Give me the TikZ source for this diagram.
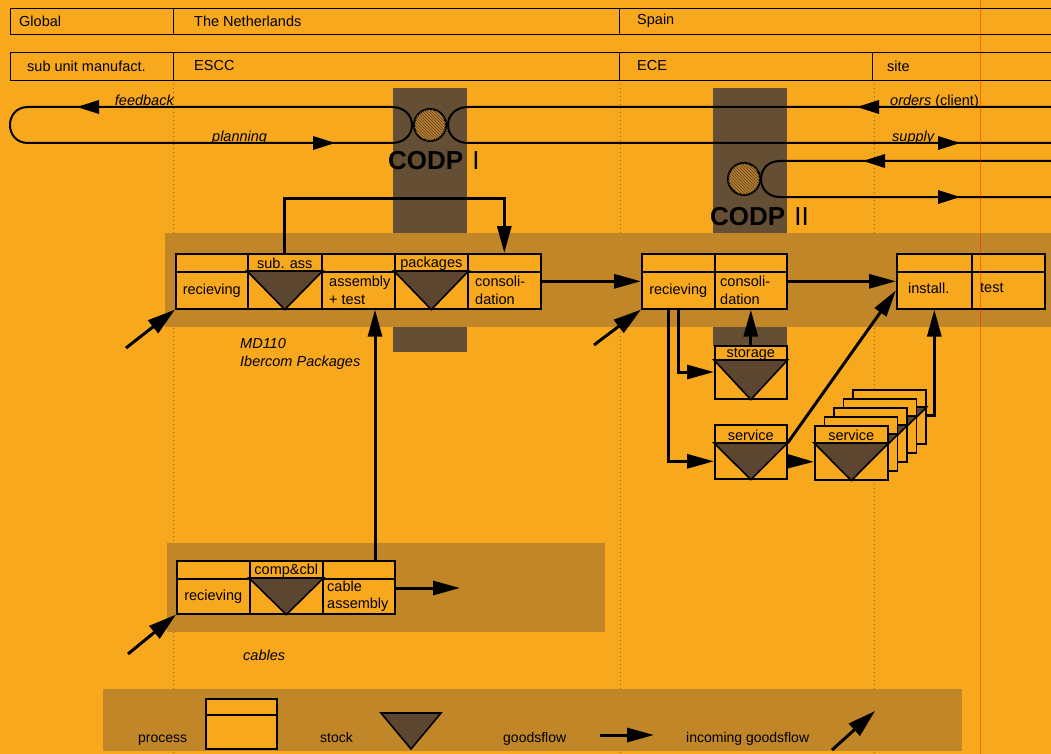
\documentclass[tikz,border=0pt]{standalone}
\usepackage{fontspec}
\setmainfont{Liberation Sans}
\usetikzlibrary{arrows.meta,calc,patterns}
\definecolor{bg}{RGB}{248,168,28}
\definecolor{band}{RGB}{192,134,40}
\definecolor{codp}{RGB}{100,78,52}
\definecolor{stockc}{RGB}{92,70,48}
\definecolor{circc}{RGB}{185,125,40}
\definecolor{dotc}{RGB}{150,100,40}
\newcommand\boxfont{\fontsize{14.5}{17.5}\selectfont}
\newcommand\legfont{\fontsize{14}{16}\selectfont}
\begin{document}
\begin{tikzpicture}[x=1pt,y=-1pt,
  hbox/.style={draw, line width=1.4pt, fill=bg, inner sep=0pt, anchor=north west},
  htxt/.style={font=\boxfont, inner sep=0pt, anchor=west},
  pcell/.style={draw, line width=1.6pt, fill=bg, inner sep=0pt, anchor=north west, font=\boxfont},
  lbl/.style={font=\boxfont, inner sep=0pt, align=left, anchor=west},
  slbl/.style={font=\boxfont, inner sep=0pt},
  ilbl/.style={font=\boxfont\itshape, inner sep=0pt},
  lgtxt/.style={font=\legfont, inner sep=0pt, anchor=base west},
  stockt/.style={fill=stockc, draw, line width=1.6pt, line join=miter},
  conn/.style={line width=3pt, -{Triangle[length=27pt,width=14pt]}},
  inc/.style={line width=3pt, -{Triangle[length=28pt,width=16pt]}},
  flow/.style={line width=2pt},
  dotl/.style={dotc, line width=0.9pt, dash pattern=on 1pt off 3pt},
  ahd/.pic={\fill (0,0) -- (-22,-7) -- (-22,7) -- cycle;}
]
\path[use as bounding box] (0,0) rectangle (1051,754);
\clip (0,0) rectangle (1051,754);
\fill[bg] (0,0) rectangle (1051,754);

% dotted column separators
\draw[dotl] (173,80) -- (173,754);
\draw[dotl] (620,80) -- (620,754);
\draw[dotl] (874,80) -- (874,754);

% CODP columns and bands
\fill[codp] (393,88) rectangle (467,352);
\fill[codp] (713,88) rectangle (787,346);
\fill[band] (165,233) rectangle (1060,327);
\fill[band] (167,543) rectangle (605,632);
\fill[band] (103,689) rectangle (962,751);

% header rows
\node[hbox, minimum width=163pt, minimum height=26pt] (gl) at (10,8) {};
\node[hbox, minimum width=446pt, minimum height=26pt] (nl) at (173,8) {};
\node[hbox, minimum width=450pt, minimum height=26pt] (sp) at (619,8) {};
\node[htxt] (tgl) at (19,21) {Global};
\node[htxt] (tnl) at (194,21) {The Netherlands};
\node[htxt] (tsp) at (637,21) {Spain};
\node[hbox, minimum width=163pt, minimum height=28pt] (su) at (10,52) {};
\node[hbox, minimum width=446pt, minimum height=28pt] (es) at (173,52) {};
\node[hbox, minimum width=253pt, minimum height=28pt] (ec) at (619,52) {};
\node[hbox, minimum width=200pt, minimum height=28pt] (si) at (872,52) {};
\node[htxt] (tsu) at (27,66) {sub unit manufact.};
\node[htxt] (tes) at (194,66) {ESCC};
\node[htxt] (tec) at (637,66) {ECE};
\node[htxt] (tsi) at (887,66) {site};

% planning / feedback loop and CODP I
\draw[flow] (392,107) -- (28,107) .. controls (4,107) and (4,143) .. (28,143) -- (392,143)
  .. controls (404,143) and (412,135) .. (412,125) .. controls (412,115) and (404,107) .. (392,107) -- cycle;
\draw[flow] (1060,107) -- (468,107) .. controls (456,107) and (448,115) .. (448,125)
  .. controls (448,135) and (456,143) .. (468,143) -- (1060,143);
\node[circle, draw, line width=2pt, fill=circc, minimum size=32pt, inner sep=0pt,
  postaction={pattern=north west lines, pattern color=stockc}] (cd1) at (430,125) {};
\draw[flow] (1060,161) -- (780,161) .. controls (768,161) and (761,169) .. (761,179)
  .. controls (761,189) and (768,197) .. (780,197) -- (1060,197);
\node[circle, draw, line width=2pt, fill=circc, minimum size=32pt, inner sep=0pt,
  postaction={pattern=north west lines, pattern color=stockc}] (cd2) at (744,179) {};
\pic[rotate=180] at (77,107) {ahd};
\pic at (335,143) {ahd};
\pic[rotate=180] at (857,107) {ahd};
\pic at (960,143) {ahd};
\pic[rotate=180] at (863,161) {ahd};
\pic at (960,197) {ahd};
\node[ilbl, anchor=base east] (tfb) at (174,106) {feedback};
\node[ilbl, anchor=base west] (tpl) at (212,142) {planning};
\node[ilbl, anchor=base west] (tor) at (890,106) {orders {\upshape (client)}};
\node[ilbl, anchor=base west] (tsup) at (892,142) {supply};
\node[font=\fontsize{26}{26}\selectfont, inner sep=0pt, anchor=base west] (codp1) at (388,170) {\textbf{CODP}\hspace{9pt}I};
\node[font=\fontsize{26}{26}\selectfont, inner sep=0pt, anchor=base west] (codp2) at (710,225) {\textbf{CODP}\hspace{9pt}II};

% ESCC process chain
\node[pcell, minimum width=72pt, minimum height=18pt] (h1) at (175,253) {};
\node[pcell, minimum width=74pt, minimum height=18pt] (h2) at (247,253) {};
\node[pcell, minimum width=73pt, minimum height=18pt] (h3) at (321,253) {};
\node[pcell, minimum width=73pt, minimum height=18pt] (h4) at (394,253) {};
\node[pcell, minimum width=73pt, minimum height=18pt] (h5) at (467,253) {};
\node[pcell, minimum width=72pt, minimum height=37pt] (b1) at (175,271) {recieving};
\node[pcell, minimum width=74pt, minimum height=37pt] (b2) at (247,271) {};
\node[pcell, minimum width=73pt, minimum height=37pt] (b3) at (321,271) {};
\node[pcell, minimum width=73pt, minimum height=37pt] (b4) at (394,271) {};
\node[pcell, minimum width=73pt, minimum height=37pt] (b5) at (467,271) {};
\draw[stockt] (b2.north west) -- (b2.north east) -- (b2.south) -- cycle;
\draw[stockt] (b4.north west) -- (b4.north east) -- (b4.south) -- cycle;
\node[slbl] (lsa) at ([yshift=-1pt]h2.center) {sub. ass};
\node[slbl] (lpk) at ([yshift=-1pt]h4.center) {packages};
\node[lbl] (lat) at ([xshift=8pt]b3.west) {assembly\\+ test};
\node[lbl] (lco) at ([xshift=8pt]b5.west) {consoli-\\dation};
\node[ilbl, anchor=base west] (tmd) at (240,348) {MD110};
\node[ilbl, anchor=base west] (tib) at (240,366) {Ibercom Packages};

% ECE chain
\node[pcell, minimum width=73pt, minimum height=18pt] (rh1) at (641,253) {};
\node[pcell, minimum width=72pt, minimum height=18pt] (rh2) at (714,253) {};
\node[pcell, minimum width=73pt, minimum height=37pt] (r1) at (641,271) {recieving};
\node[pcell, minimum width=72pt, minimum height=37pt] (r2) at (714,271) {};
\node[lbl] (lco2) at ([xshift=6pt]r2.west) {consoli-\\dation};

% site chain
\node[pcell, minimum width=75pt, minimum height=18pt] (ih1) at (896,253) {};
\node[pcell, minimum width=73pt, minimum height=18pt] (ih2) at (971,253) {};
\node[pcell, minimum width=75pt, minimum height=37pt] (i1) at (896,271) {};
\node[pcell, minimum width=73pt, minimum height=37pt] (i2) at (971,271) {};
\node[lbl] (lin) at ([xshift=12pt,yshift=2pt]i1.west) {install.};
\node[lbl] (lte) at ([xshift=9pt,yshift=2pt]i2.west) {test};

% storage and service
\node[pcell, minimum width=72pt, minimum height=15pt] (sth) at (714,345) {};
\node[pcell, minimum width=72pt, minimum height=38pt] (stb) at (714,360) {};
\draw[stockt] (stb.north west) -- (stb.north east) -- (stb.south) -- cycle;
\node[slbl] (lst) at ([yshift=-1pt]sth.center) {storage};
\node[pcell, minimum width=72pt, minimum height=19pt] (svh) at (714,424) {};
\node[pcell, minimum width=72pt, minimum height=35pt] (svb) at (714,443) {};
\draw[stockt] (svb.north west) -- (svb.north east) -- (svb.south) -- cycle;
\node[slbl] (lsv) at ([yshift=-1pt]svh.center) {service};
\foreach \k in {4,3,2,1,0} {
  \node[pcell, minimum width=73pt, minimum height=18pt] (fh\k) at ({814+9.5*\k},{425-9*\k}) {};
  \node[pcell, minimum width=73pt, minimum height=36pt] (fb\k) at ({814+9.5*\k},{443-9*\k}) {};
  \draw[stockt] (fb\k.north west) -- (fb\k.north east) -- (fb\k.south) -- cycle;
}
\node[slbl] (lsv2) at ([yshift=-1pt]fh0.center) {service};

% cables chain
\node[pcell, minimum width=73pt, minimum height=18pt] (kh1) at (176,560) {};
\node[pcell, minimum width=73pt, minimum height=18pt] (kh2) at (249,560) {};
\node[pcell, minimum width=72pt, minimum height=18pt] (kh3) at (322,560) {};
\node[pcell, minimum width=73pt, minimum height=35pt] (k1) at (176,578) {recieving};
\node[pcell, minimum width=73pt, minimum height=35pt] (k2) at (249,578) {};
\node[pcell, minimum width=72pt, minimum height=35pt] (k3) at (322,578) {};
\draw[stockt] (k2.north west) -- (k2.north east) -- (k2.south) -- cycle;
\node[slbl] (lcc) at ([yshift=-1pt]kh2.center) {comp\&cbl};
\node[lbl] (lca) at ([xshift=5pt]k3.west) {cable\\assembly};
\node[ilbl, anchor=base west] (tcb) at (243,660) {cables};

% connectors
\draw[line width=3pt] (h2.north) -- ++(0,-55) -| ([yshift=20pt]h5.north);
\draw[conn] ([yshift=21pt]h5.north) -- (h5.north);
\draw[conn] ([yshift=9pt]b5.east) -- ([yshift=9pt]r1.west);
\draw[conn] ([yshift=9pt]r2.east) -- ([yshift=9pt]i1.west);
\coordinate (cup) at (375,560);
\draw[conn] (cup) -- (cup |- b3.south);
\coordinate (cout) at (460,588);
\draw[conn] (k3.east |- cout) -- (cout);
\draw[conn] (sth.north) -- (r2.south);
\draw[conn] (r1.south) |- ([yshift=-12pt]stb.north west);
\draw[conn] ([xshift=-10pt]r1.south) |- (svb.west);
\draw[conn] (svb.east) -- (fb0.west);
\draw[conn] (svb.north east) -- (i1.west);
\draw[conn] ([yshift=-8pt]fb4.north east) -| (i1.south);
\coordinate (inE) at (126,348);
\draw[inc] (inE) -- (b1.south west);
\coordinate (inR) at (594,345);
\draw[inc] (inR) -- (r1.south west);
\coordinate (inK) at (128,654);
\draw[inc] (inK) -- (k1.south west);

% legend
\node[lgtxt] (lgp) at (138,742) {process};
\node[pcell, minimum width=71pt, minimum height=16pt] (lgh) at (205,698) {};
\node[pcell, minimum width=71pt, minimum height=34pt] (lgb) at (205,714) {};
\node[lgtxt] (lgs) at (320,742) {stock};
\draw[stockt] (381,713) -- (441,713) -- (411,749) -- cycle;
\node[lgtxt] (lgg) at (503,742) {goodsflow};
\coordinate (lga1) at (600,735);
\coordinate (lga2) at (654,735);
\draw[conn] (lga1) -- (lga2);
\node[lgtxt] (lgi) at (686,742) {incoming goodsflow};
\coordinate (lgi1) at (832,750);
\coordinate (lgi2) at (875,711);
\draw[inc] (lgi1) -- (lgi2);

% faint red scan line
\draw[red!80!orange, opacity=0.45, line width=0.7pt] (980,0) -- (980,754);
\end{tikzpicture}
\end{document}
